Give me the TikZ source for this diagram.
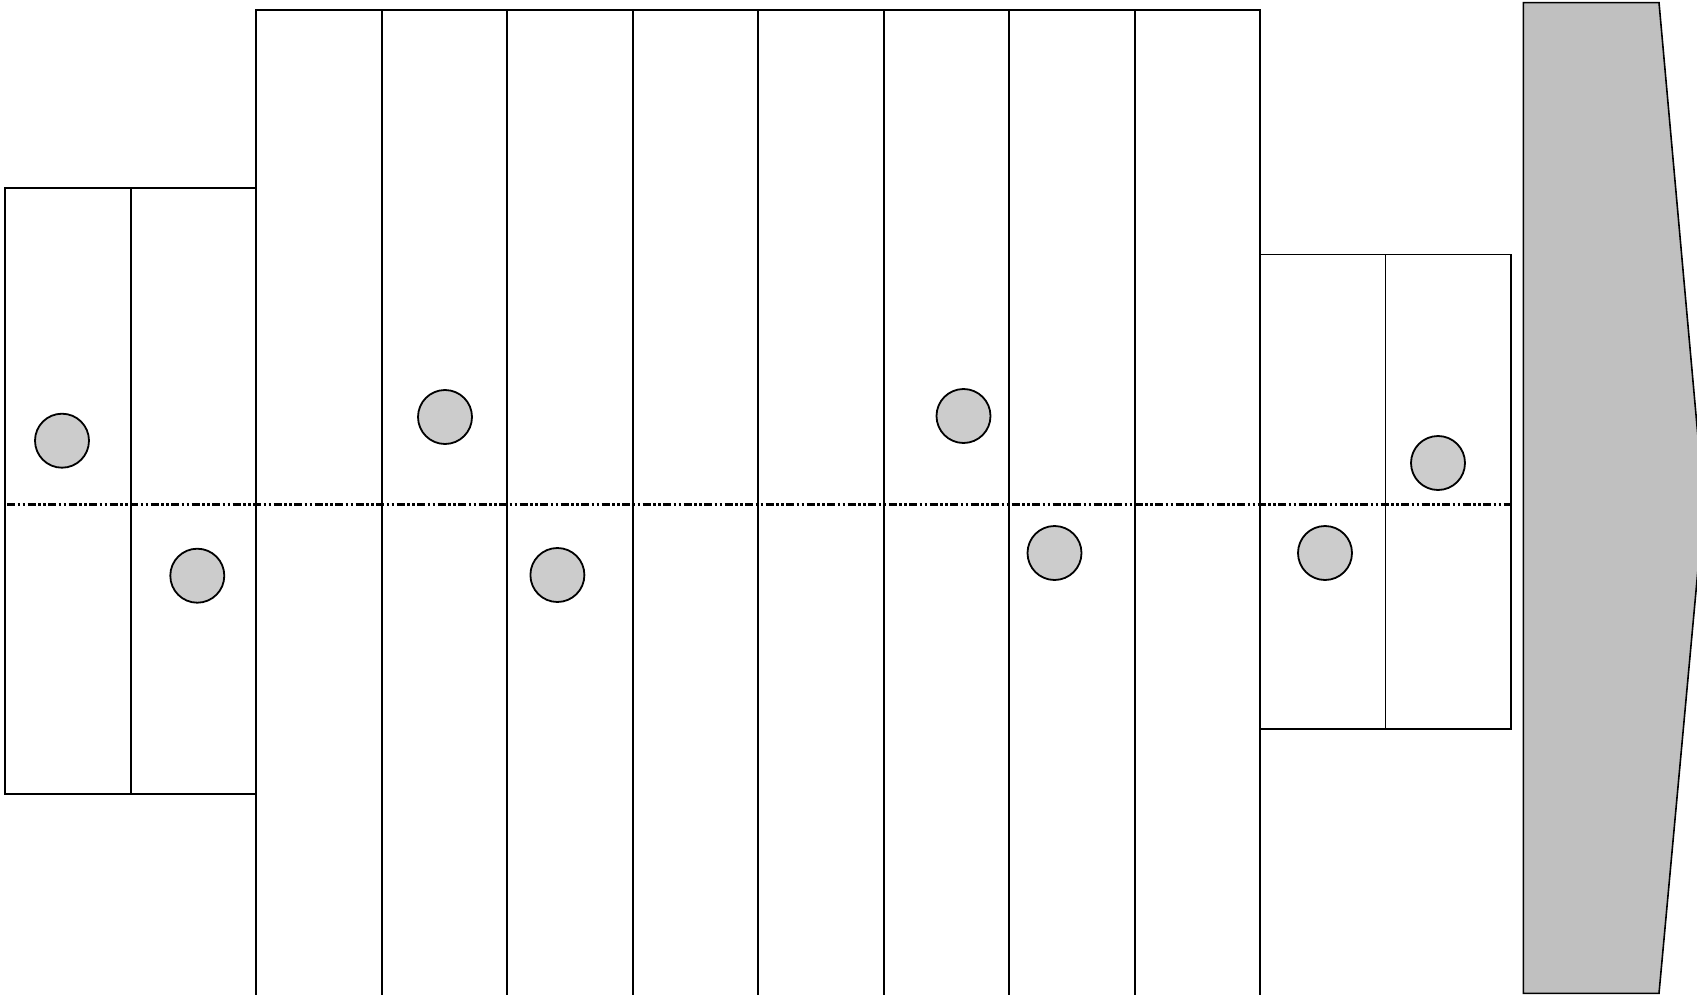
\documentclass[tikz,border=0pt]{standalone}
\begin{document}
\begin{tikzpicture}[x=1pt,y=-1pt,
  cell/.style={draw=black,line width=2pt},
  thincell/.style={draw=black,line width=1.5pt},
  ball/.style={circle,draw=black,line width=1.8pt,fill={rgb,255:red,204;green,204;blue,204},minimum size=54pt,inner sep=0pt},
  axis/.style={draw=black,line width=2.8pt,dash pattern=on 8pt off 2.5pt on 2.5pt off 2.5pt on 2.5pt off 2.5pt},
  arrowbody/.style={draw=black,line width=1.6pt,fill={rgb,255:red,192;green,192;blue,192}}]
\useasboundingbox (0,0) rectangle (1697,995);
\clip (0,0) rectangle (1697,995);
% left boxes
\draw[cell] (5,187.7) rectangle (130.5,794.4);
\draw[cell] (130.5,187.7) rectangle (256,794.4);
% big columns
\foreach \k in {0,...,7}{
  \draw[cell] ({256+125.5*\k},10) rectangle ({256+125.5*(\k+1)},1010);
}
% right boxes
\draw[thincell] (1260,254.3) rectangle (1385.5,729);
\draw[thincell] (1385.5,254.3) rectangle (1511,729);
% gray arrow-like block
\draw[arrowbody] (1523.3,2.7) -- (1659,2.7) -- (1704,504) -- (1659,993.3) -- (1523.3,993.3) -- cycle;
% axis line
\coordinate (axL) at (7,504.3);
\coordinate (axR) at (1511,504.3);
\draw[axis] (axL) -- (axR);
% balls
\node[ball] (b1) at (62,440.7) {};
\node[ball] (b2) at (197.3,575.7) {};
\node[ball] (b3) at (445,417) {};
\node[ball] (b4) at (557.4,575) {};
\node[ball] (b5) at (963.5,416) {};
\node[ball] (b6) at (1054.5,553) {};
\node[ball] (b7) at (1325,553) {};
\node[ball] (b8) at (1438,463) {};
\end{tikzpicture}
\end{document}
